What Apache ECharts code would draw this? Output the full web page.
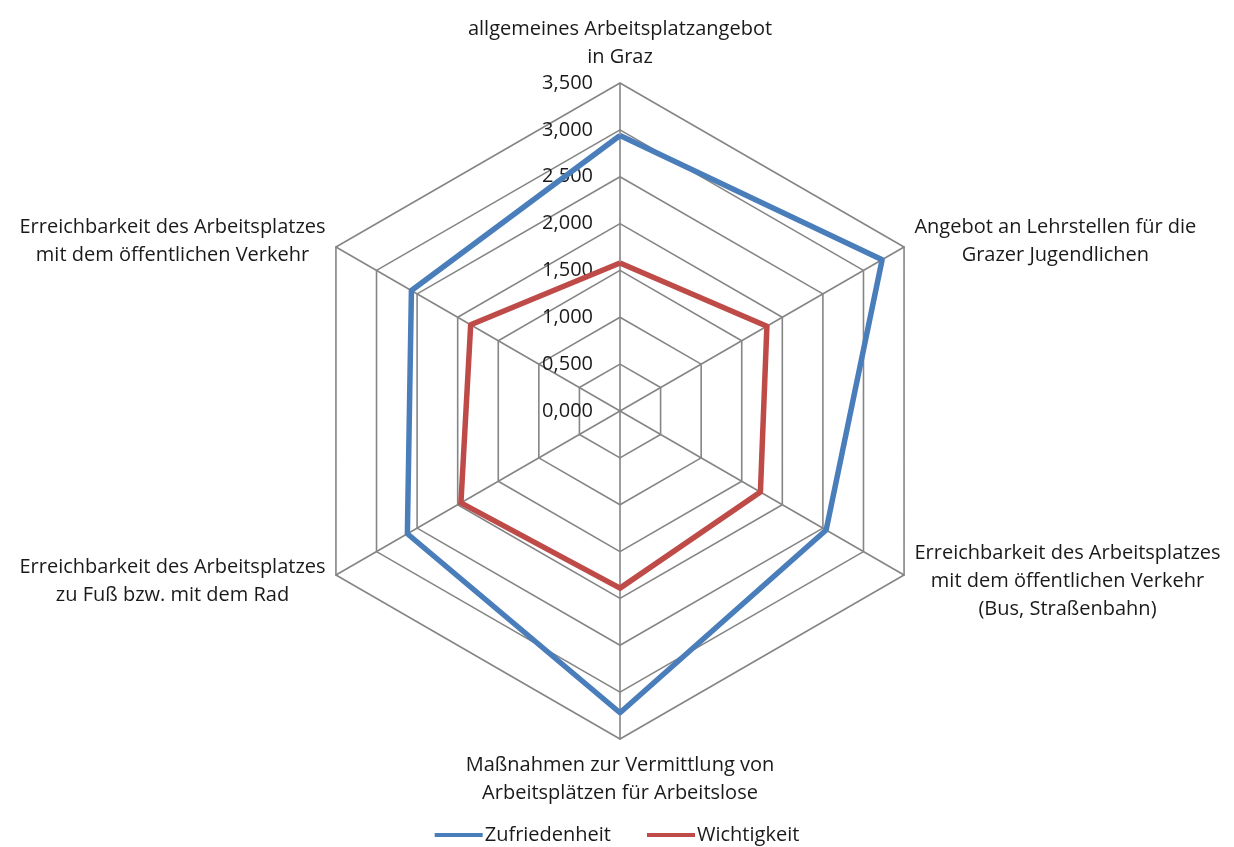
<!DOCTYPE html>
<html>
<head>
<meta charset="utf-8">
<script src="https://cdn.jsdelivr.net/npm/echarts@6/dist/echarts.min.js"></script>
<style>
html,body{margin:0;padding:0;background:#fff;}
#chart{width:1234px;height:847px;}
</style>
</head>
<body>
<div id="chart"></div>
<script>
// Indicator order follows ECharts radar: starts at top, goes counter-clockwise
const indicatorNames = [
  "allgemeines Arbeitsplatzangebot\nin Graz",
  "Erreichbarkeit des Arbeitsplatzes\nmit dem öffentlichen Verkehr",
  "Erreichbarkeit des Arbeitsplatzes\nzu Fuß bzw. mit dem Rad",
  "Maßnahmen zur Vermittlung von\nArbeitsplätzen für Arbeitslose",
  "Erreichbarkeit des Arbeitsplatzes\nmit dem öffentlichen Verkehr\n(Bus, Straßenbahn)",
  "Angebot an Lehrstellen für die\nGrazer Jugendlichen"
];
const seriesNames = ["Zufriedenheit", "Wichtigkeit"];
const zufriedenheit = [2.94, 2.57, 2.62, 3.22, 2.54, 3.23];
const wichtigkeit = [1.58, 1.84, 1.96, 1.89, 1.73, 1.81];
const axisMin = 0;
const axisMax = 3.5;
const axisSplits = 7;

const FONT = "'Open Sans', sans-serif";
const FS = 20;
const TXT = '#1a1a1a';
const chart = echarts.init(document.getElementById('chart'), null, {renderer: 'canvas'});
const fmt = v => Number(v).toFixed(3).replace('.', ',');

const option = {
  backgroundColor: '#fff',
  animation: false,
  color: ['#4A7EBB', '#BE4B48'],
  legend: {
    bottom: -3,
    left: 'center',
    icon: 'rect',
    itemWidth: 48,
    itemHeight: 4,
    itemGap: 36,
    textStyle: {fontFamily: FONT, fontSize: FS, color: TXT, padding: [0,0,0,-3]},
    data: seriesNames
  },
  radar: {
    center: [620, 411],
    radius: 328,
    startAngle: 90,
    shape: 'polygon',
    splitNumber: axisSplits,
    nameGap: 12,
    axisName: {
      color: TXT,
      fontFamily: FONT,
      fontSize: FS,
      formatter: name => name.split('\n').map(l => '{c|' + l + '}').join('\n'),
      rich: {c: {align: 'center', fontFamily: FONT, fontSize: FS, color: TXT, lineHeight: 28}}
    },
    axisLine: {lineStyle: {color: '#858585', width: 1.6}},
    splitLine: {lineStyle: {color: '#858585', width: 1.6}},
    splitArea: {show: false},
    axisTick: {show: false},
    axisLabel: {show: false},
    indicator: indicatorNames.map((n, i) => {
      const ind = {name: n, min: axisMin, max: axisMax};
      if (i === 0) {
        ind.axisLabel = {show: true, margin: 27, formatter: fmt, fontFamily: FONT, fontSize: FS, color: TXT};
      }
      return ind;
    })
  },
  series: [{
    type: 'radar',
    symbol: 'none',
    data: [
      {name: seriesNames[0], value: zufriedenheit, lineStyle: {width: 5.5, color: '#4A7EBB'}, itemStyle: {color: '#4A7EBB'}},
      {name: seriesNames[1], value: wichtigkeit, lineStyle: {width: 5.5, color: '#BE4B48'}, itemStyle: {color: '#BE4B48'}}
    ]
  }]
};
chart.setOption(option);
</script>
</body>
</html>
